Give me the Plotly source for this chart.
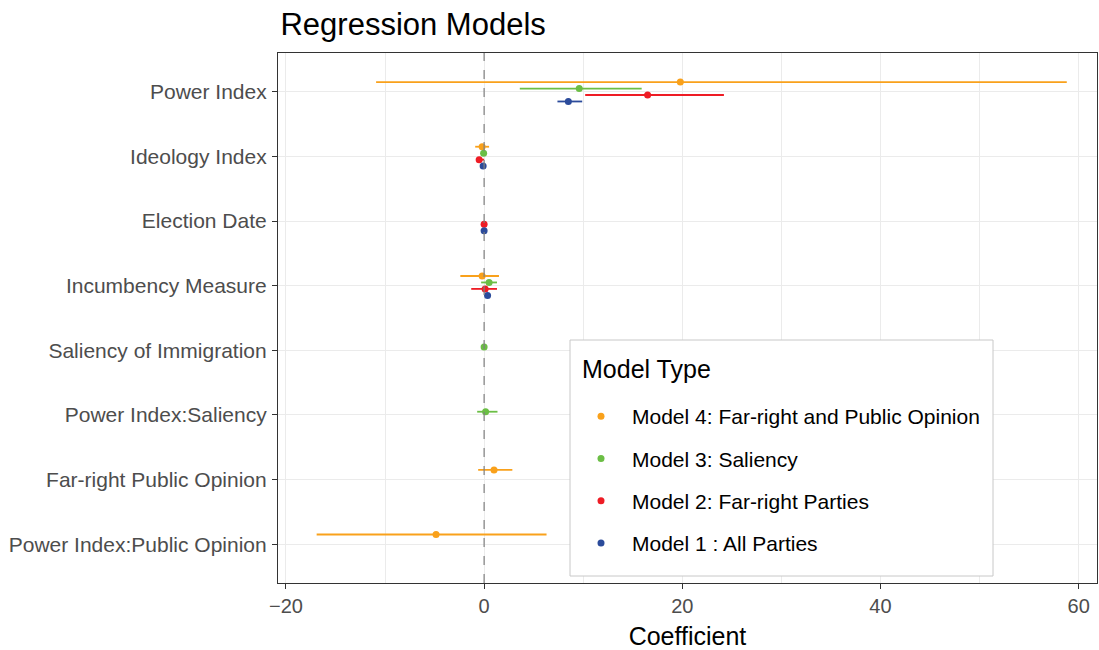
import plotly.graph_objects as go

# ---- data ----
terms = ["Power Index", "Ideology Index", "Election Date", "Incumbency Measure",
         "Saliency of Immigration", "Power Index:Saliency", "Far-right Public Opinion",
         "Power Index:Public Opinion"]

models = ["Model 4: Far-right and Public Opinion", "Model 3: Saliency",
          "Model 2: Far-right Parties", "Model 1 : All Parties"]
colors = ["#F9A11B", "#6BBE45", "#EE1C25", "#2B4B9B"]
dodge = [-0.15, -0.05, 0.05, 0.15]

m4_terms = ["Power Index", "Ideology Index", "Incumbency Measure",
            "Far-right Public Opinion", "Power Index:Public Opinion"]
m4_est = [19.8, -0.2, -0.2, 1.0, -4.85]
m4_lo = [-10.9, -0.9, -2.4, -0.6, -16.9]
m4_hi = [58.8, 0.5, 1.5, 2.85, 6.3]

m3_terms = ["Power Index", "Ideology Index", "Incumbency Measure",
            "Saliency of Immigration", "Power Index:Saliency"]
m3_est = [9.6, -0.05, 0.5, 0.0, 0.15]
m3_lo = [3.6, -0.2, -0.3, -0.1, -0.7]
m3_hi = [15.9, 0.1, 1.3, 0.1, 1.35]

m2_terms = ["Power Index", "Ideology Index", "Election Date", "Incumbency Measure"]
m2_est = [16.5, -0.5, 0.0, 0.1]
m2_lo = [10.2, -0.8, -0.1, -1.3]
m2_hi = [24.2, 0.0, 0.1, 1.3]

m1_terms = ["Power Index", "Ideology Index", "Election Date", "Incumbency Measure"]
m1_est = [8.5, -0.1, 0.0, 0.35]
m1_lo = [7.4, -0.3, -0.1, 0.2]
m1_hi = [9.9, 0.1, 0.1, 0.5]

series = [(m4_terms, m4_est, m4_lo, m4_hi), (m3_terms, m3_est, m3_lo, m3_hi),
          (m2_terms, m2_est, m2_lo, m2_hi), (m1_terms, m1_est, m1_lo, m1_hi)]

FONT = "Liberation Sans, Arial, sans-serif"

# plot-area geometry (pixels) for placing the legend box
L, R, T, B = 278, 1097, 53, 583
PW, PH = R - L, B - T


def px_x(p):
    return (p - L) / PW


def px_y(p):
    return (B - p) / PH


fig = go.Figure()
for i, (tm, est, lo, hi) in enumerate(series):
    ys = [terms.index(t) + dodge[i] for t in tm]
    fig.add_trace(go.Scatter(
        x=est, y=ys, mode="markers", name=models[i], legendgroup=models[i],
        marker=dict(color=colors[i], size=7),
        error_x=dict(type="data", symmetric=False,
                     array=[h - e for h, e in zip(hi, est)],
                     arrayminus=[e - l for e, l in zip(est, lo)],
                     color=colors[i], thickness=1.8, width=0),
    ))

fig.add_vline(x=0, line=dict(color="#7F7F7F", width=1.2, dash="dash"))

# legend frame and title
fig.add_shape(type="rect", xref="paper", yref="paper",
              x0=px_x(570), x1=px_x(993), y0=px_y(576), y1=px_y(340),
              fillcolor="white", line=dict(color="#C8C8C8", width=1), layer="above")
fig.add_annotation(text="Model Type", xref="paper", yref="paper",
                   x=px_x(580), y=px_y(369), xanchor="left", yanchor="middle",
                   showarrow=False, font=dict(size=25, color="#000000"))

fig.update_layout(
    width=1099, height=650,
    margin=dict(l=L, r=1099 - R, t=T, b=650 - B, autoexpand=False),
    paper_bgcolor="white", plot_bgcolor="white",
    font=dict(family=FONT, color="#000000"),
    title=dict(text="Regression Models", font=dict(size=31, color="#000000"),
               x=0.003, xref="paper", xanchor="left", y=1 - 24 / 650, yanchor="middle"),
    xaxis=dict(range=[-20.8, 61.85], tickvals=[-20, 0, 20, 40, 60],
               ticks="outside", ticklen=5, tickcolor="#333333",
               tickfont=dict(size=20, color="#4D4D4D"),
               showgrid=True, gridcolor="#EBEBEB", gridwidth=1.2,
               minor=dict(tickvals=[-10, 10, 30, 50], showgrid=True,
                          gridcolor="#EBEBEB", gridwidth=0.6, ticks=""),
               zeroline=False, showline=True, mirror=True, linecolor="#333333",
               linewidth=1.2,
               title=dict(text="Coefficient", font=dict(size=25, color="#000000"),
                          standoff=11)),
    yaxis=dict(range=[7.6, -0.6], tickvals=list(range(len(terms))), ticktext=terms,
               ticks="outside", ticklen=5, tickcolor="#333333",
               tickfont=dict(size=21, color="#4D4D4D"), ticklabelstandoff=1,
               showgrid=True, gridcolor="#EBEBEB", gridwidth=1.2,
               zeroline=False, showline=True, mirror=True, linecolor="#333333",
               linewidth=1.2),
    legend=dict(x=px_x(570), y=px_y(396), xanchor="left", yanchor="top",
                bgcolor="rgba(0,0,0,0)", borderwidth=0,
                font=dict(size=21, color="#000000"),
                traceorder="grouped", tracegroupgap=12, itemwidth=52),
    showlegend=True,
)

fig.write_html("out.html", config={"displayModeBar": False},
               post_script="document.body.style.margin='0';")
